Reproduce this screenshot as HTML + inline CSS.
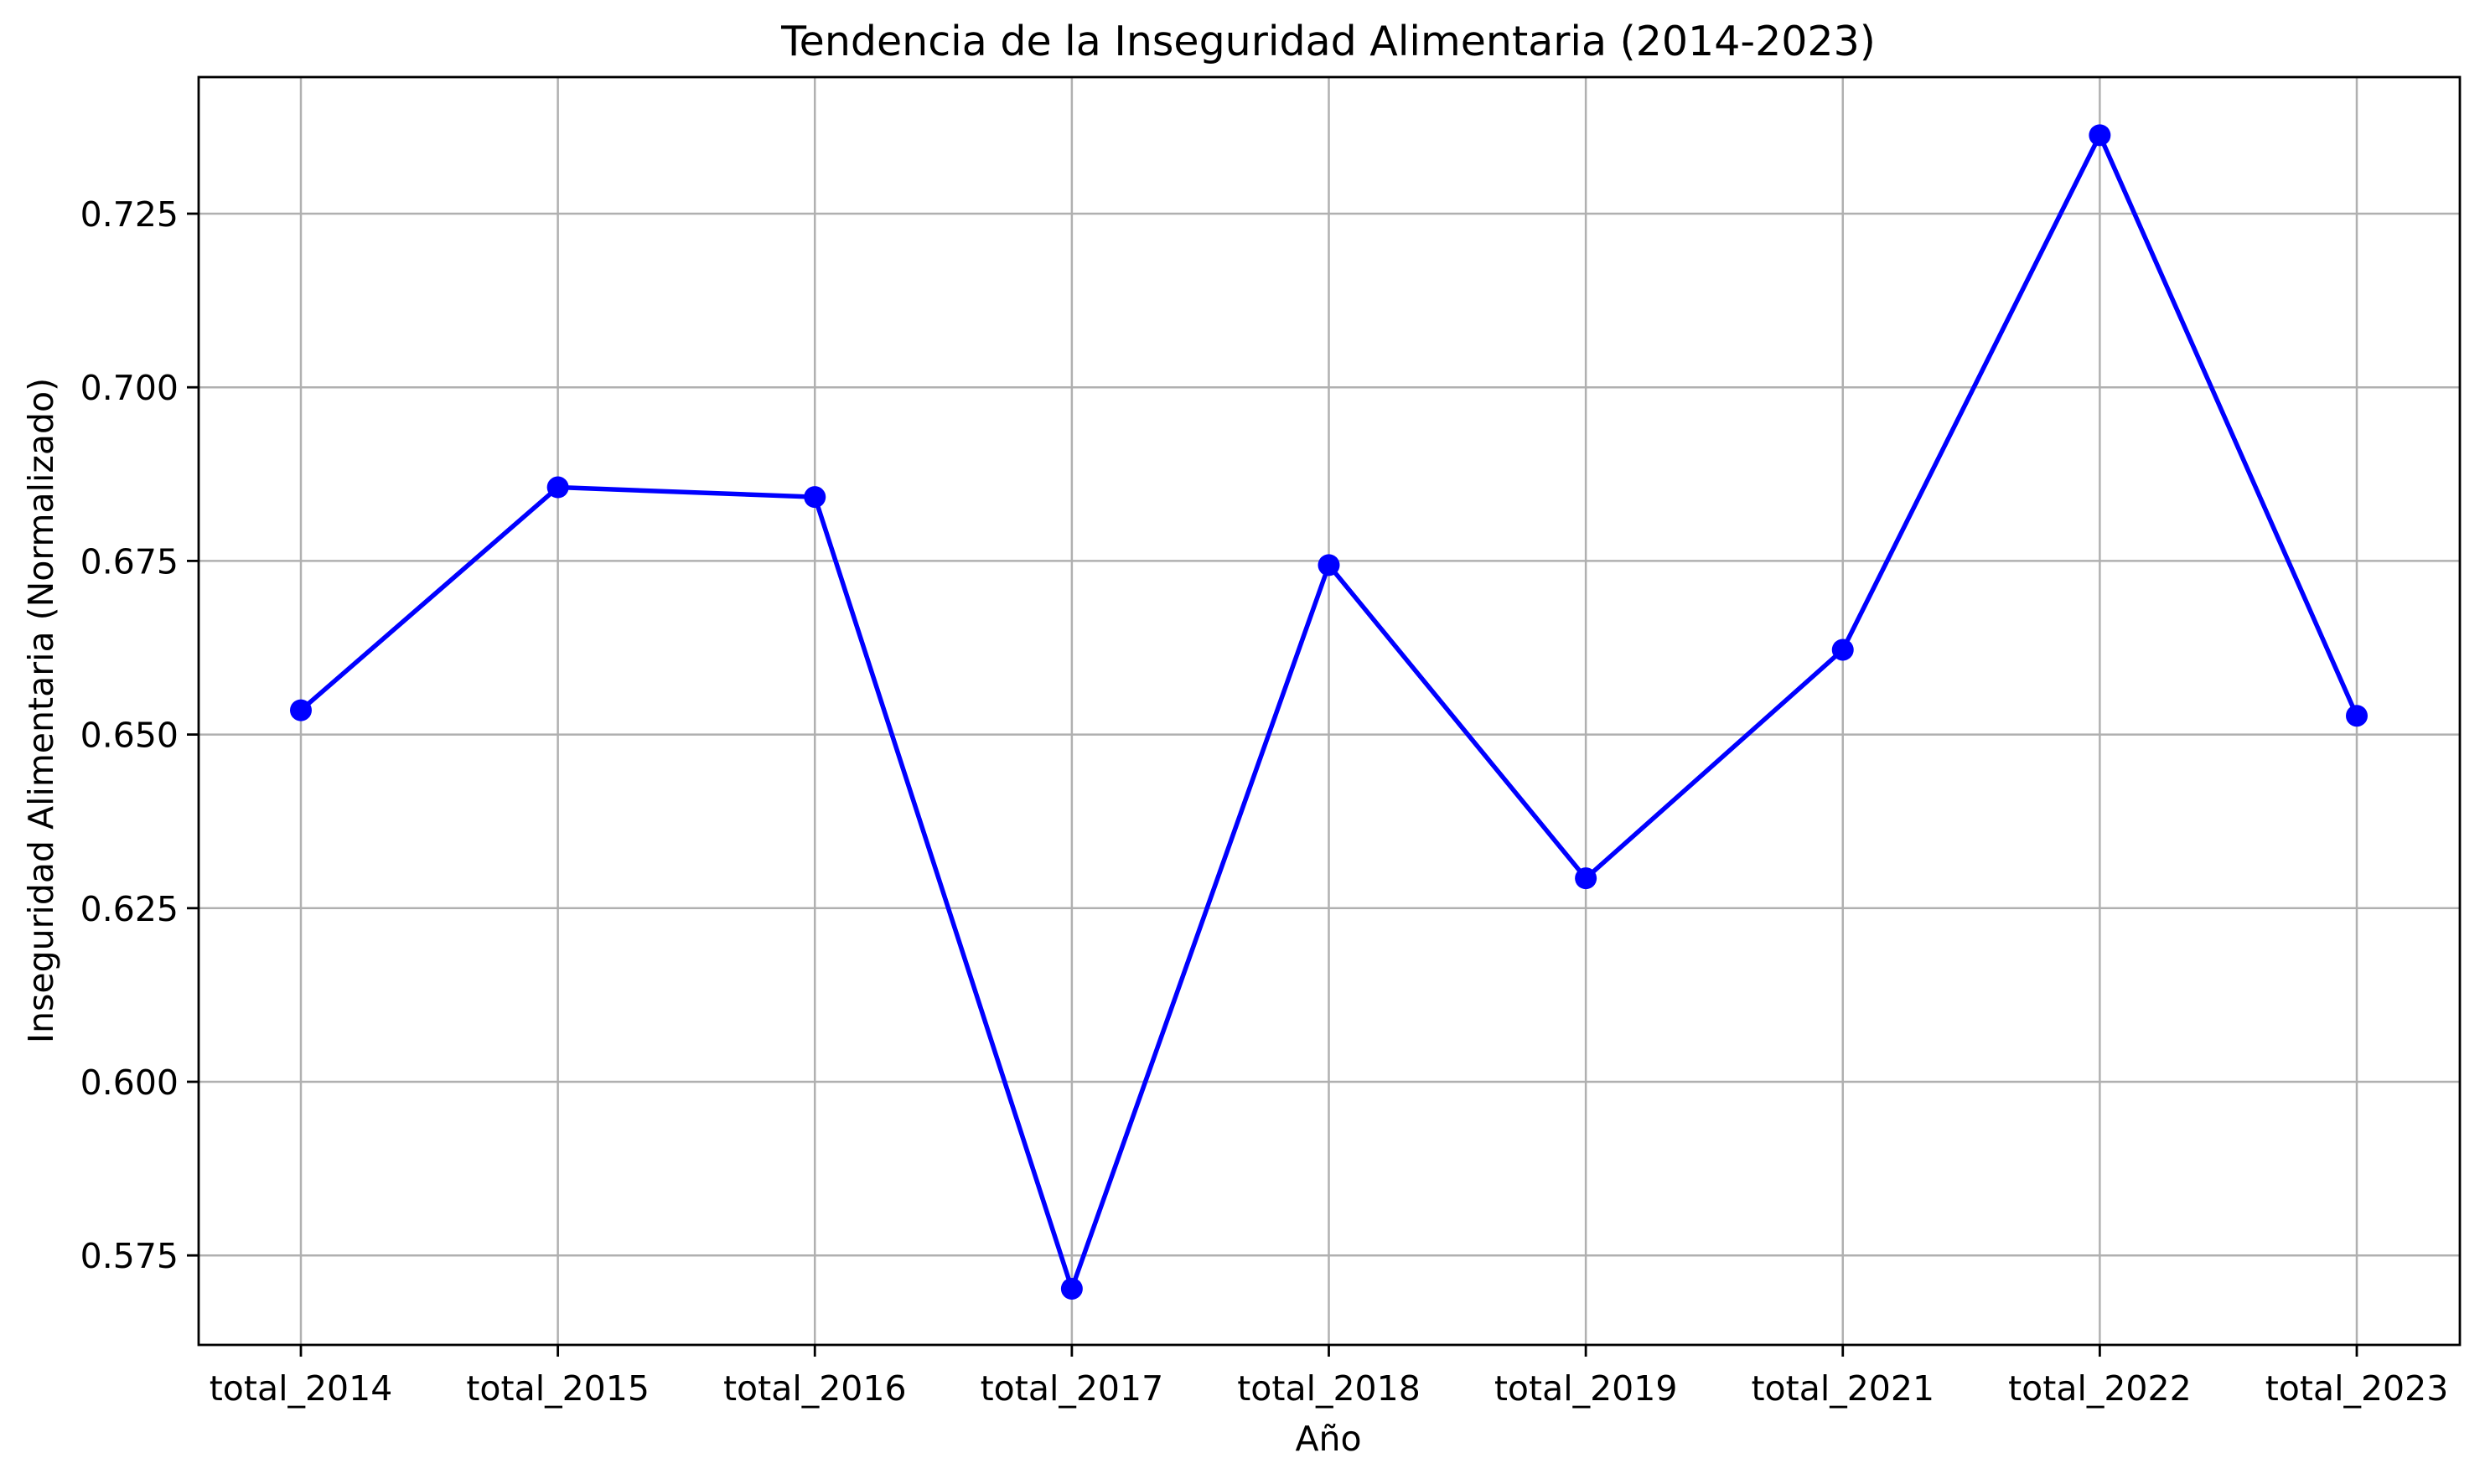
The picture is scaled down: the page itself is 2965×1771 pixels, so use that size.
<!DOCTYPE html>
<html><head><meta charset="utf-8"><style>
body{margin:0;background:#fff}
svg text{font-family:"DejaVu Sans","Liberation Sans",sans-serif;fill:#000}
</style></head><body>
<svg width="2965" height="1766" viewBox="0 0 2965 1766" xmlns="http://www.w3.org/2000/svg">
<g id="grid"></g>
<g id="series"></g>
<rect x="237" y="92" width="2698" height="1513" fill="none" stroke="#000" stroke-width="2.8"/>
<g id="ticks"></g>
<text x="1585" y="66" font-size="49" text-anchor="middle">Tendencia de la Inseguridad Alimentaria (2014-2023)</text>
<text x="1585" y="1731" font-size="41" text-anchor="middle">Año</text>
<text x="0" y="0" font-size="41" text-anchor="middle" transform="translate(63,848) rotate(-90)">Inseguridad Alimentaria (Normalizado)</text>
</svg>
<script>
const categories=["total_2014","total_2015","total_2016","total_2017","total_2018","total_2019","total_2021","total_2022","total_2023"];
const values=[0.6535,0.6856,0.6842,0.5702,0.6744,0.6293,0.6622,0.7363,0.6527];
const yTicks=[0.575,0.600,0.625,0.650,0.675,0.700,0.725];
const yTickLabels=["0.575","0.600","0.625","0.650","0.675","0.700","0.725"];
const NS="http://www.w3.org/2000/svg";
const L=237,R=2935,T=92,B=1605;
function xs(i){return 359+i*(2812-359)/(categories.length-1);}
function ys(v){return 255+(0.725-v)/0.025*207.2;}
function mk(tag,attrs,parent){const e=document.createElementNS(NS,tag);for(const k in attrs)e.setAttribute(k,attrs[k]);parent.appendChild(e);return e;}
const grid=document.getElementById('grid'),ticks=document.getElementById('ticks'),series=document.getElementById('series');
categories.forEach((c,i)=>{
 const x=xs(i);
 const g=mk('line',{x1:x,x2:x,y1:T,y2:B,stroke:'#b0b0b0','stroke-width':2.5},grid);
 
 
 const t=mk('line',{x1:x,x2:x,y1:B,y2:B+14,stroke:'#000','stroke-width':2.8},ticks);
 
 
 const tx=mk('text',{x:x,y:B+66,'font-size':41,'text-anchor':'middle'},ticks);
 tx.textContent=c;
 
 
});
yTicks.forEach((v,i)=>{
 const y=ys(v);
 const g=mk('line',{x1:L,x2:R,y1:y,y2:y,stroke:'#b0b0b0','stroke-width':2.5},grid);
 
 
 const t=mk('line',{x1:L-14,x2:L,y1:y,y2:y,stroke:'#000','stroke-width':2.8},ticks);
 
 
 const tx=mk('text',{x:L-24,y:y+15,'font-size':41,'text-anchor':'end'},ticks);
 tx.textContent=yTickLabels[i];
 
 
});
const pts=values.map((v,i)=>xs(i)+','+ys(v)).join(' ');
const pl=mk('polyline',{points:pts,fill:'none',stroke:'#0000ff','stroke-width':5.5,'stroke-linejoin':'round'},series);


values.forEach((v,i)=>{
 const c=mk('circle',{cx:xs(i),cy:ys(v),r:13,fill:'#0000ff'},series);
 
 
});
</script>
</body></html>
